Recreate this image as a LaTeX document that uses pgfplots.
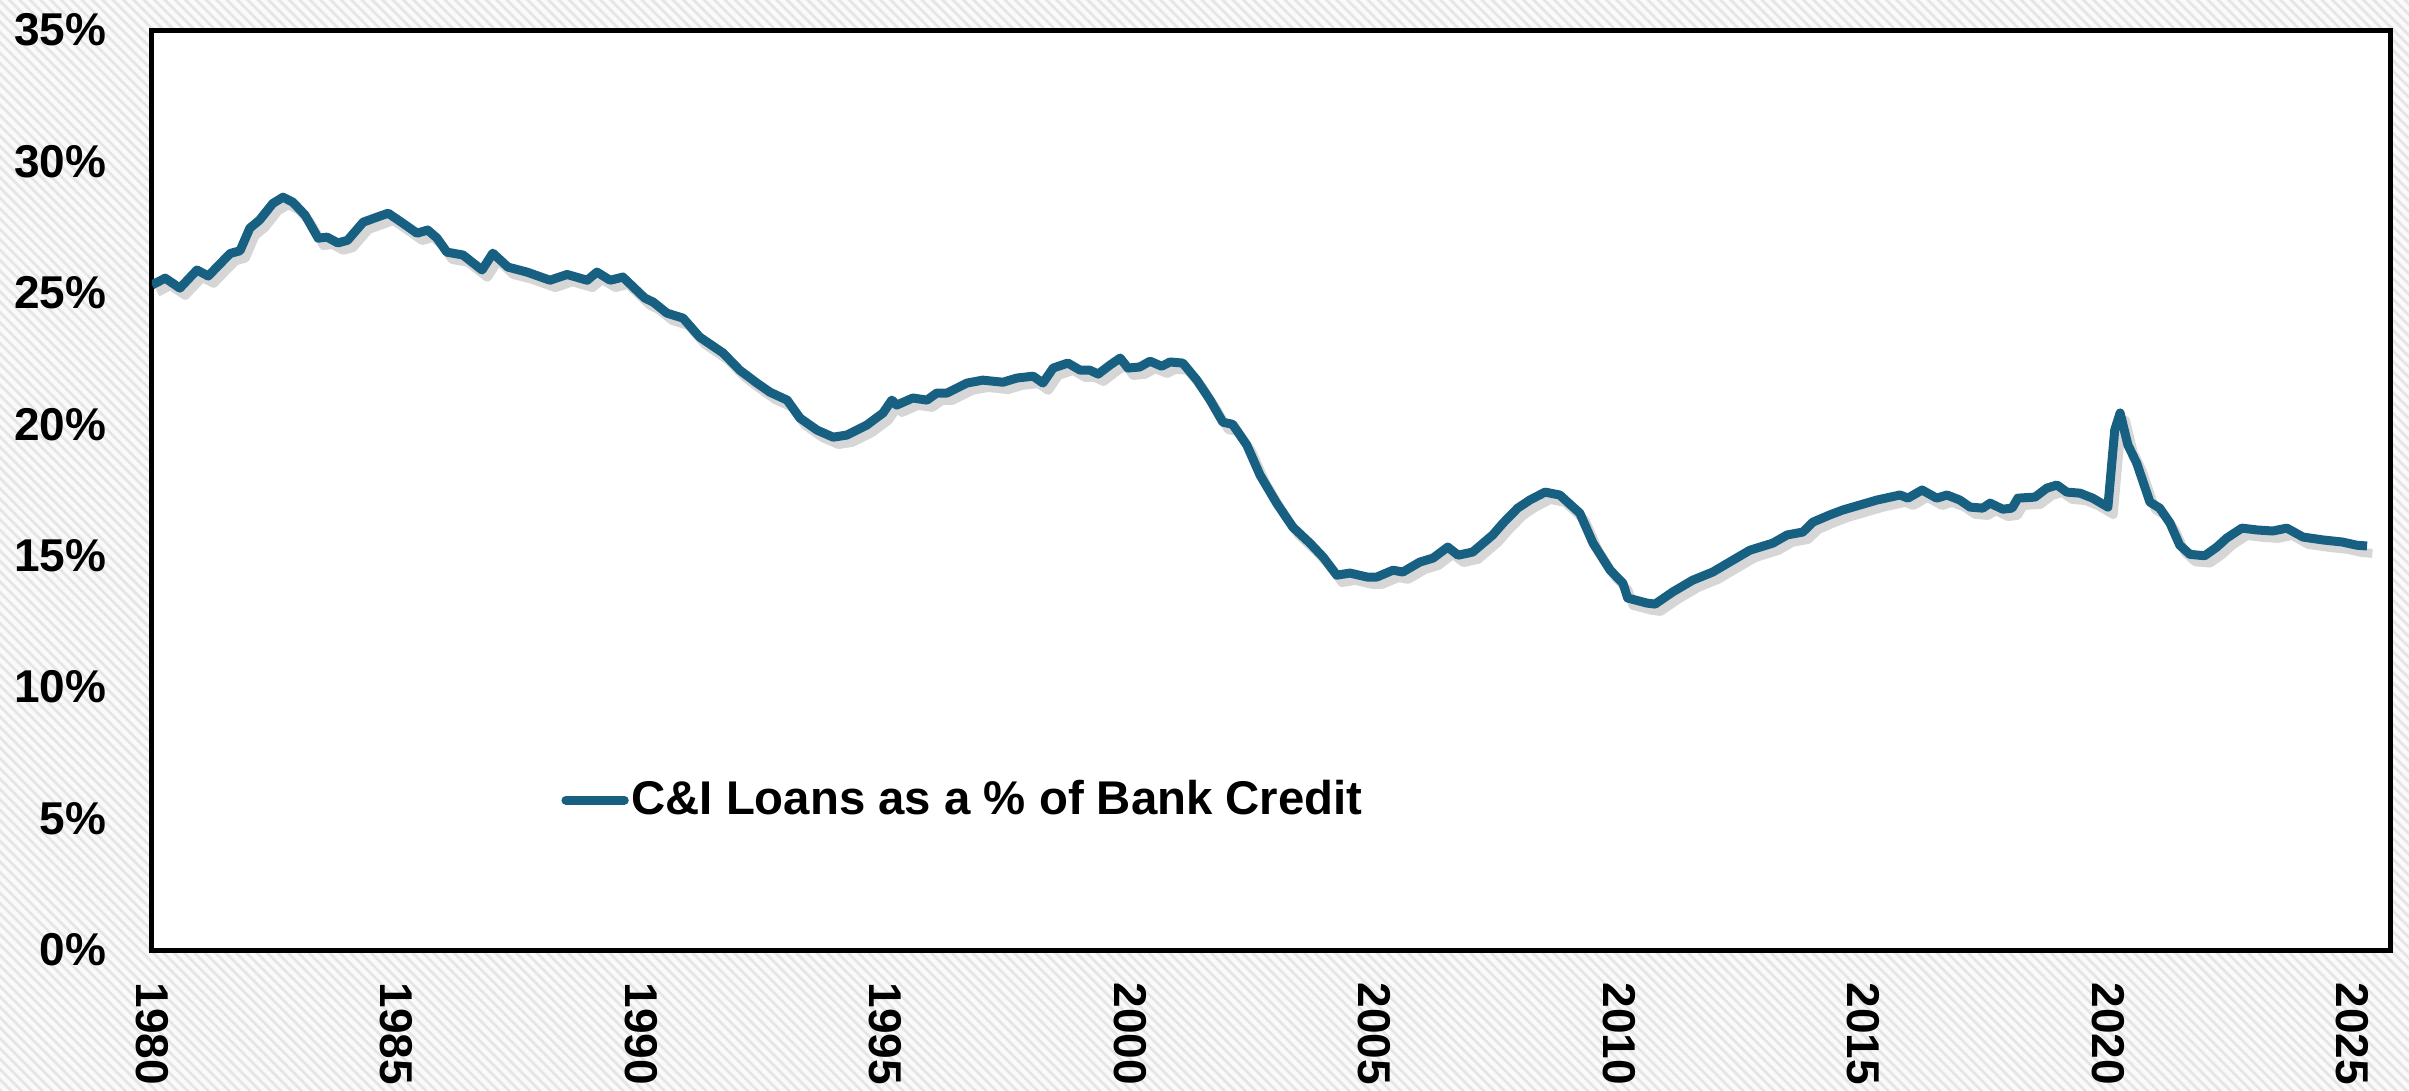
\documentclass[border=0pt]{standalone}
\usepackage{pgfplots}
\pgfplotsset{compat=1.18}
\usepackage{pgfplotstable}
\usepackage{fontspec}
\setmainfont{Liberation Sans}
\usetikzlibrary{patterns.meta}
\definecolor{lineblue}{RGB}{24,96,130}

\pgfplotstableread{
year val
1980.00 25.3
1980.27 25.56
1980.57 25.18
1980.92 25.87
1981.15 25.64
1981.6 26.5
1981.8 26.6
1982.0 27.46
1982.2 27.77
1982.47 28.4
1982.68 28.64
1982.88 28.45
1983.13 27.96
1983.4 27.08
1983.58 27.12
1983.8 26.9
1984.0 27.0
1984.32 27.69
1984.6 27.88
1984.83 28.03
1985.13 27.65
1985.42 27.27
1985.64 27.39
1985.83 27.08
1986.03 26.55
1986.36 26.44
1986.75 25.87
1986.97 26.51
1987.28 25.98
1987.67 25.79
1988.14 25.48
1988.49 25.7
1988.9 25.48
1989.1 25.79
1989.37 25.48
1989.63 25.6
1990.08 24.8
1990.25 24.65
1990.53 24.23
1990.86 24.04
1991.2 23.32
1991.68 22.71
1992.02 22.06
1992.37 21.57
1992.64 21.22
1992.99 20.92
1993.25 20.24
1993.6 19.78
1993.93 19.51
1994.21 19.59
1994.62 19.97
1994.95 20.43
1995.13 20.92
1995.23 20.73
1995.56 21.0
1995.85 20.92
1996.05 21.19
1996.26 21.19
1996.67 21.57
1996.99 21.68
1997.4 21.6
1997.69 21.76
1998.02 21.83
1998.22 21.57
1998.43 22.14
1998.73 22.33
1998.98 22.06
1999.18 22.06
1999.35 21.91
1999.59 22.25
1999.8 22.52
1999.96 22.14
2000.2 22.18
2000.41 22.4
2000.65 22.21
2000.82 22.37
2001.08 22.33
2001.37 21.68
2001.64 20.92
2001.9 20.08
2002.1 20.0
2002.39 19.21
2002.66 18.07
2003.0 17.0
2003.33 16.09
2003.68 15.48
2003.95 14.95
2004.23 14.26
2004.5 14.34
2004.85 14.19
2005.05 14.19
2005.38 14.45
2005.58 14.38
2005.93 14.76
2006.2 14.91
2006.5 15.33
2006.71 15.02
2007.01 15.14
2007.42 15.79
2007.63 16.24
2007.93 16.81
2008.18 17.12
2008.49 17.42
2008.79 17.31
2009.2 16.62
2009.47 15.48
2009.82 14.45
2010.08 13.96
2010.18 13.39
2010.57 13.2
2010.74 13.16
2011.1 13.62
2011.51 14.07
2011.92 14.38
2012.33 14.83
2012.68 15.21
2013.15 15.48
2013.44 15.79
2013.76 15.9
2013.97 16.28
2014.31 16.55
2014.58 16.74
2014.93 16.93
2015.28 17.12
2015.75 17.31
2015.91 17.19
2016.2 17.5
2016.5 17.19
2016.71 17.31
2016.97 17.12
2017.18 16.85
2017.44 16.81
2017.59 17.0
2017.85 16.77
2018.04 16.81
2018.16 17.19
2018.51 17.23
2018.75 17.57
2018.96 17.69
2019.16 17.42
2019.43 17.38
2019.69 17.19
2020.0 16.85
2020.14 19.78
2020.25 20.43
2020.41 19.21
2020.59 18.52
2020.86 17.04
2021.06 16.81
2021.27 16.24
2021.47 15.4
2021.68 15.05
2021.98 15.0
2022.23 15.33
2022.43 15.67
2022.74 16.05
2023.05 15.98
2023.37 15.94
2023.66 16.05
2023.99 15.71
2024.4 15.6
2024.8 15.52
2025.09 15.4
2025.3 15.37
}\cidata

\begin{document}
\begin{tikzpicture}
\fill[gray!4] (-45.6pt,-42pt) rectangle (677.1pt,285pt);
\fill[pattern={Lines[angle=-45,distance=2.2pt,line width=0.8pt]}, pattern color=gray!20] (-45.6pt,-42pt) rectangle (677.1pt,285pt);
\useasboundingbox (-45.6pt,-42pt) rectangle (677.1pt,285pt);
\begin{axis}[
  at={(0,0)}, anchor=south west,
  scale only axis,
  width=671.4pt, height=276pt,
  xmin=1980, xmax=2025.77,
  ymin=0, ymax=35,
  xtick={1980,1985,...,2025},
  ytick={0,5,...,35},
  major tick length=0pt,
  axis line style={line width=1.5pt, black},
  axis background/.style={fill=white},
  /pgf/number format/assume math mode=true,
  /pgf/number format/1000 sep={},
  every tick label/.append style={font=\fontsize{13.8}{16}\selectfont\bfseries},
  xticklabel style={rotate=-90, anchor=west, inner sep=0pt},
  xticklabel shift=9.6pt,
  yticklabel style={anchor=east, inner sep=0pt},
  yticklabel shift=13.5pt,
  yticklabel={\pgfmathprintnumber{\tick}\%},
  legend style={at={(axis cs:1988.36,5.7)}, anchor=west, draw=none, fill=none,
    inner sep=0pt, nodes={inner sep=0.8pt}, font=\fontsize{14.2}{16}\selectfont\bfseries},
  legend image code/.code={\draw[#1, line cap=round] (0pt,0pt) -- (17.5pt,0pt);},
]
\addplot[forget plot, line width=2.7pt, black, opacity=0.16, xshift=1.6pt, yshift=-2.2pt, line join=round] table[x=year,y=val] {\cidata};
\addplot[line width=2.7pt, lineblue, line join=round] table[x=year,y=val] {\cidata};
\addlegendentry{C\&I Loans as a \% of Bank Credit}
\end{axis}
\end{tikzpicture}
\end{document}
